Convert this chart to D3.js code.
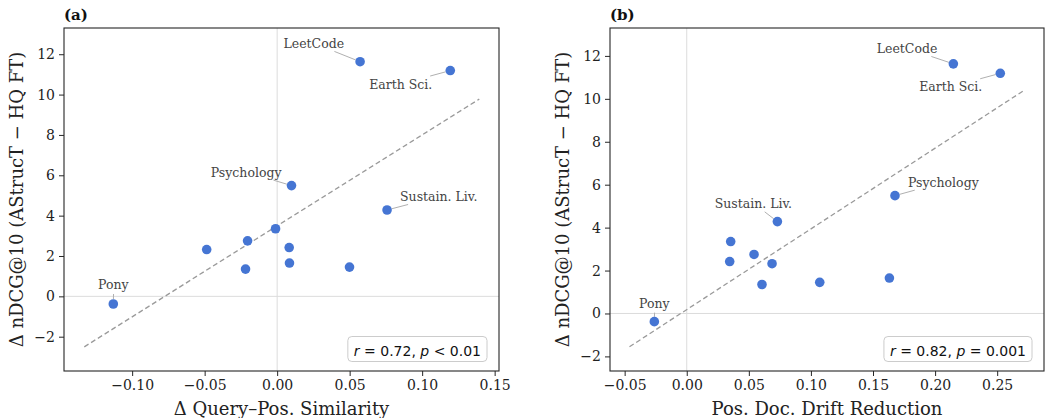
<!DOCTYPE html>
<html>
<head>
<meta charset="utf-8">
<script src="https://cdn.jsdelivr.net/npm/d3@7"></script>
<style>
	body { margin: 0; background: #fff; }
	svg { display: block; }
</style>
</head>
<body>
<div id="chart"></div>
<script>
var chart_width = 1045
var chart_height = 418
var top_y = 28
var bottom_y = 371

// one entry per domain; only some are labelled
var domains = ['Pony', 'Psychology', 'LeetCode', 'Earth Sci.', 'Sustain. Liv.', '', '', '', '', '', '', '']
var delta_ndcg = [-0.38, 5.49, 11.63, 11.19, 4.28, 3.35, 2.75, 2.42, 2.32, 1.65, 1.45, 1.35]
var query_sim = [-0.113, 0.0099, 0.0572, 0.1194, 0.0758, -0.0011, -0.0204, 0.0083, -0.0486, 0.0085, 0.0499, -0.0218]
var drift_red = [-0.0261, 0.1677, 0.2147, 0.2525, 0.073, 0.0354, 0.0542, 0.0346, 0.0687, 0.1632, 0.1071, 0.0606]

var x_ticks_a = [-0.10, -0.05, 0, 0.05, 0.10, 0.15]
var x_ticks_b = [-0.05, 0, 0.05, 0.10, 0.15, 0.20, 0.25]
var y_ticks = [-2, 0, 2, 4, 6, 8, 10, 12]

var stats_a = ['r', ' = 0.72, ', 'p', ' < 0.01']
var stats_b = ['r', ' = 0.82, ', 'p', ' = 0.001']

var y_label = 'Δ nDCG@10 (AStrucT − HQ FT)'

var panels = [
	{
		tag: '(a)', xs: query_sim, x_ticks: x_ticks_a,
		x_domain: [-0.147, 0.153], y_domain: [-3.7, 13.3],
		left: 64, right: 499, y_label_x: 23,
		x_label: 'Δ Query–Pos. Similarity', stats: stats_a,
		// label offsets from the point: dx, dy (baseline), anchor
		offsets: {
			'Pony': [0, -15, 'middle'],
			'Psychology': [-10, -9, 'end'],
			'LeetCode': [-16, -14, 'end'],
			'Earth Sci.': [-18, 18, 'end'],
			'Sustain. Liv.': [13, -9, 'start']
		}
	},
	{
		tag: '(b)', xs: drift_red, x_ticks: x_ticks_b,
		x_domain: [-0.0618, 0.2877], y_domain: [-2.68, 13.3],
		left: 610, right: 1044, y_label_x: 569,
		x_label: 'Pos. Doc. Drift Reduction', stats: stats_b,
		offsets: {
			'Pony': [0, -14, 'middle'],
			'Psychology': [13, -9, 'start'],
			'LeetCode': [-16, -11, 'end'],
			'Earth Sci.': [-18, 18, 'end'],
			'Sustain. Liv.': [-24, -14, 'middle']
		}
	}
]

var svg = d3.select('#chart')
	.append('svg')
	.attr('width', chart_width)
	.attr('height', chart_height)

var fmt_x = function(d) { return d3.format('.2f')(d).replace('-', '−') }
var fmt_y = function(d) { return String(d).replace('-', '−') }

panels.forEach(function(p) { draw_panel(p) })

function draw_panel(p) {
	var data = p.xs.map(function(x, i) {
		return { name: domains[i], x: x, y: delta_ndcg[i] }
	})

	var x_scale = d3.scaleLinear().domain(p.x_domain).range([p.left, p.right])
	var y_scale = d3.scaleLinear().domain(p.y_domain).range([bottom_y, top_y])

	var g = svg.append('g')

	// zero reference lines
	g.append('line')
		.attr('x1', x_scale(0)).attr('x2', x_scale(0))
		.attr('y1', top_y).attr('y2', bottom_y)
		.attr('stroke', '#dcdcdc').attr('stroke-width', 1)
	g.append('line')
		.attr('x1', p.left).attr('x2', p.right)
		.attr('y1', y_scale(0)).attr('y2', y_scale(0))
		.attr('stroke', '#dcdcdc').attr('stroke-width', 1)

	// least squares fit
	var mx = d3.mean(data, d => d.x)
	var my = d3.mean(data, d => d.y)
	var slope = d3.sum(data, d => (d.x - mx) * (d.y - my)) / d3.sum(data, d => (d.x - mx) * (d.x - mx))
	var icpt = my - slope * mx
	var ext = d3.extent(data, d => d.x)
	var fit_x = [ext[0] - 0.02, ext[1] + 0.02]
	var line = d3.line()
		.x(d => x_scale(d))
		.y(d => y_scale(icpt + slope * d))
	g.append('path')
		.datum(fit_x)
		.attr('fill', 'none')
		.attr('stroke', '#9a9a9a')
		.attr('stroke-width', 1.3)
		.attr('stroke-dasharray', '5,3')
		.attr('d', line)

	// labels first so we can measure them for the connectors
	var conn_g = g.append('g')
	var dot_g = g.append('g')
	var lab_g = g.append('g')
	var r = 4.8

	data.filter(d => d.name && p.offsets[d.name]).forEach(function(d) {
		var off = p.offsets[d.name]
		var px = x_scale(d.x), py = y_scale(d.y)
		var t = lab_g.append('text')
			.attr('x', px + off[0])
			.attr('y', py + off[1])
			.attr('text-anchor', off[2])
			.attr('font-family', 'DejaVu Serif')
			.attr('font-size', 12.5)
			.attr('fill', '#444')
			.text(d.name)
		var bb = t.node().getBBox()
		var cx = bb.x + bb.width / 2, cy = bb.y + bb.height / 2
		var dx = px - cx, dy = py - cy
		var len = Math.sqrt(dx * dx + dy * dy)
		var tx = dx !== 0 ? Math.abs((dx > 0 ? bb.x + bb.width - cx : bb.x - cx) / dx) : Infinity
		var ty = dy !== 0 ? Math.abs((dy > 0 ? bb.y + bb.height - cy : bb.y - cy) / dy) : Infinity
		var te = Math.min(tx, ty)
		var sx = cx + dx * te + dx / len * 2
		var sy = cy + dy * te + dy / len * 2
		var ex = px - dx / len * r, ey = py - dy / len * r
		if ((ex - sx) * dx + (ey - sy) * dy > 0) {
			conn_g.append('line')
				.attr('x1', sx).attr('y1', sy)
				.attr('x2', ex).attr('y2', ey)
				.attr('stroke', '#b0b0b0')
				.attr('stroke-width', 1)
		}
	})

	dot_g.selectAll('circle')
		.data(data)
		.enter()
		.append('circle')
		.attr('cx', d => x_scale(d.x))
		.attr('cy', d => y_scale(d.y))
		.attr('r', r)
		.attr('fill', '#4575d3')

	// axes
	var x_axis = d3.axisBottom(x_scale).tickValues(p.x_ticks).tickFormat(fmt_x).tickSize(5).tickPadding(4)
	var y_axis = d3.axisLeft(y_scale).tickValues(y_ticks).tickFormat(fmt_y).tickSize(5).tickPadding(4)

	var xg = g.append('g')
		.attr('transform', 'translate(0, ' + bottom_y + ')')
		.call(x_axis)
	var yg = g.append('g')
		.attr('transform', 'translate(' + p.left + ', 0)')
		.call(y_axis)
	;[xg, yg].forEach(function(a) {
		a.select('.domain').remove()
		a.selectAll('line').attr('stroke', '#262626').attr('stroke-width', 1)
		a.selectAll('text')
			.attr('font-family', 'DejaVu Serif')
			.attr('font-size', 14)
			.attr('fill', '#222')
	})

	// frame
	g.append('rect')
		.attr('x', p.left).attr('y', top_y)
		.attr('width', p.right - p.left).attr('height', bottom_y - top_y)
		.attr('fill', 'none')
		.attr('stroke', '#262626')
		.attr('stroke-width', 1.1)

	// stats box
	var st = g.append('text')
		.attr('font-family', 'DejaVu Sans')
		.attr('font-size', 14)
		.attr('fill', '#111')
		.attr('text-anchor', 'end')
		.attr('x', p.right - 18)
		.attr('y', bottom_y - 15)
	p.stats.forEach(function(s, i) {
		st.append('tspan')
			.attr('font-style', i % 2 === 0 ? 'italic' : 'normal')
			.text(s)
	})
	var sb = st.node().getBBox()
	g.insert('rect', function() { return st.node() })
		.attr('x', sb.x - 6).attr('y', bottom_y - 34.5)
		.attr('width', sb.width + 12).attr('height', 25)
		.attr('rx', 4)
		.attr('fill', '#fff')
		.attr('fill-opacity', 0.85)
		.attr('stroke', '#cccccc')
		.attr('stroke-width', 1)

	// axis labels and tag
	g.append('text')
		.attr('x', (p.left + p.right) / 2)
		.attr('y', 415)
		.attr('text-anchor', 'middle')
		.attr('font-family', 'DejaVu Serif')
		.attr('font-size', 18)
		.attr('fill', '#222')
		.text(p.x_label)

	g.append('text')
		.attr('transform', 'translate(' + p.y_label_x + ',' + ((top_y + bottom_y) / 2) + ') rotate(-90)')
		.attr('text-anchor', 'middle')
		.attr('font-family', 'DejaVu Serif')
		.attr('font-size', 18)
		.attr('fill', '#222')
		.text(y_label)

	g.append('text')
		.attr('x', p.left)
		.attr('y', 20)
		.attr('font-family', 'DejaVu Serif')
		.attr('font-weight', 'bold')
		.attr('font-size', 15)
		.attr('fill', '#111')
		.text(p.tag)
}
</script>
</body>
</html>
